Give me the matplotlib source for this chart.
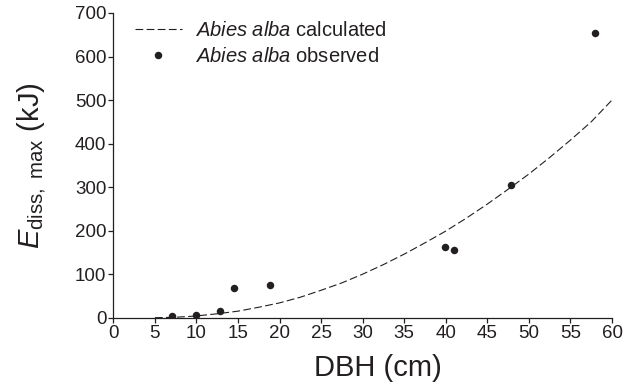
import matplotlib
matplotlib.use("Agg")
import matplotlib.pyplot as plt
from matplotlib.lines import Line2D

plt.rcParams['font.family'] = ['Liberation Sans', 'DejaVu Sans']
plt.rcParams['mathtext.fontset'] = 'custom'
plt.rcParams['mathtext.rm'] = 'Liberation Sans'
plt.rcParams['mathtext.it'] = 'Liberation Sans:italic'

ink = '#231f20'

# observed points (DBH cm, E kJ)
obs_dbh = [7.1, 9.9, 12.8, 14.5, 18.9, 39.9, 41.0, 47.9, 58.0]
obs_e = [5, 6, 16, 69, 75, 162, 156, 305, 653]

# calculated curve
calc_dbh = [5, 7.5, 10, 12.5, 15, 17.5, 20, 22.5, 25, 27.5, 30, 32.5, 35,
            37.5, 40, 42.5, 45, 47.5, 50, 52.5, 55, 57.5, 60]
calc_e = [0, 1, 4, 9, 15, 24, 34, 47, 63, 80, 100, 122, 146,
          172, 199, 229, 261, 295, 330, 368, 408, 450, 500]

x_ticks = list(range(0, 61, 5))
y_ticks = list(range(0, 701, 100))

fig = plt.figure(figsize=(6.34, 3.90), dpi=100)
ax = fig.add_axes([0.1787, 0.1854, 0.7866, 0.7813])

ax.plot(calc_dbh, calc_e, color=ink, lw=0.8, dashes=(7, 3))
ax.plot(obs_dbh, obs_e, 'o', color=ink, ms=5.4, mec='none')

ax.set_xlim(0, 60)
ax.set_ylim(0, 700)
ax.set_xticks(x_ticks)
ax.set_yticks(y_ticks)
for s in ['top', 'right']:
    ax.spines[s].set_visible(False)
for s in ['left', 'bottom']:
    ax.spines[s].set_linewidth(0.9)
    ax.spines[s].set_color(ink)
ax.tick_params(direction='out', length=3.5, width=0.9, color=ink,
               labelsize=13.5, labelcolor=ink, pad=1.5)

ax.set_xlabel('DBH (cm)', fontsize=21, color=ink, labelpad=9)
ax.xaxis.label.set_x(0.53)
ax.set_ylabel(r'$\mathit{E}_{\mathrm{diss,\ max}}$ (kJ)', fontsize=21,
              color=ink, labelpad=19)

handles = [
    Line2D([], [], color=ink, lw=0.8, dashes=(7, 3)),
    Line2D([], [], marker='o', ls='none', color=ink, ms=5.4, mec='none'),
]
labels = [r'$\mathit{Abies\ alba}$ calculated', r'$\mathit{Abies\ alba}$ observed']
ax.legend(handles, labels, loc='upper left', bbox_to_anchor=(0.044, 0.975),
          frameon=False, fontsize=14.5, borderpad=0, borderaxespad=0,
          handlelength=2.3, handletextpad=0.65, labelspacing=0.38,
          labelcolor=ink)

fig.savefig('out.png', dpi=100)
